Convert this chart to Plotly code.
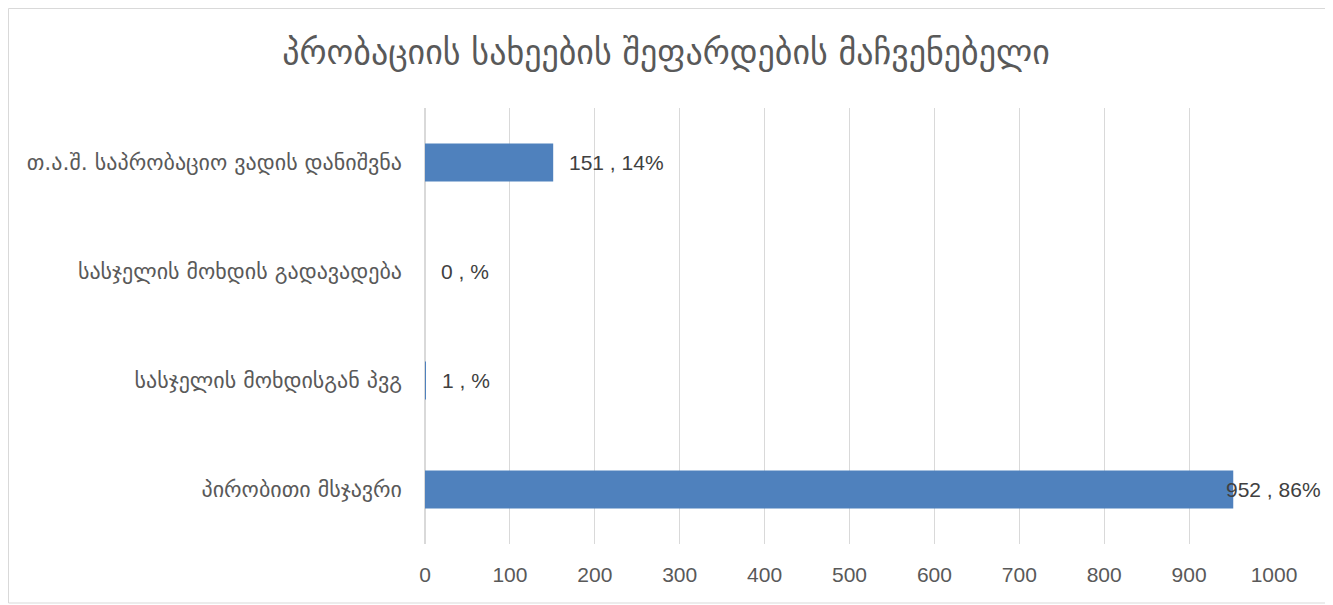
import plotly.graph_objects as go

categories = [
    "პირობითი მსჯავრი",
    "სასჯელის მოხდისგან პვგ",
    "სასჯელის მოხდის გადავადება",
    "თ.ა.შ. საპრობაციო ვადის დანიშვნა",
]
values = [952, 1, 0, 151]
percents = ["86", "", "", "14"]
x_ticks = [0, 100, 200, 300, 400, 500, 600, 700, 800, 900, 1000]
title_text = "პრობაციის სახეების შეფარდების მაჩვენებელი"

# page body has an 8px margin; figure is sized to fill the rest of the window
OFF = 8
W, H = 1333 - OFF, 605 - OFF
ml, mr, mt, mb = 425 - OFF, 59, 108 - OFF, 61
pw, ph = W - ml - mr, H - mt - mb

fig = go.Figure()
fig.add_trace(go.Bar(
    y=categories, x=values, orientation="h",
    marker=dict(color="#4f81bd", line=dict(width=0)),
    width=0.35, hoverinfo="x+y",
))

for c, v, p in zip(categories, values, percents):
    shift = -9 if v > 900 else 14
    fig.add_annotation(
        x=v, y=c, xref="x", yref="y", text=f"{v} , {p}%",
        showarrow=False, xanchor="left", xshift=shift,
        font=dict(family="Liberation Sans, sans-serif", size=21, color="#404040"),
    )

fig.add_shape(
    type="rect", xref="paper", yref="paper",
    x0=(0.5 - ml) / pw, x1=(W - 1.5 - ml) / pw,
    y0=-(mb - 2) / ph, y1=1 + (mt - 0.5) / ph,
    line=dict(color="#d9d9d9", width=1), fillcolor="rgba(0,0,0,0)", layer="below",
)

fig.update_layout(
    width=W, height=H,
    margin=dict(l=ml, r=mr, t=mt, b=mb),
    paper_bgcolor="white", plot_bgcolor="white",
    showlegend=False, bargap=0.65,
    title=dict(text=title_text, x=(666 - OFF) / W, xref="container", xanchor="center",
               y=1 - (52 - OFF) / H, yref="container", yanchor="middle",
               font=dict(family="DejaVu Sans, sans-serif", size=34, color="#595959")),
    xaxis=dict(range=[0, 1000], tickvals=x_ticks, showgrid=True, gridcolor="#d9d9d9", gridwidth=1,
               zeroline=True, zerolinecolor="#d9d9d9", showline=False,
               ticks="", tickfont=dict(family="Liberation Sans, sans-serif", size=21, color="#595959"),
               ticklabelstandoff=16),
    yaxis=dict(categoryorder="array", categoryarray=categories, showgrid=False, zeroline=False,
               showline=False, ticks="", ticklabelstandoff=22,
               tickfont=dict(family="DejaVu Sans, sans-serif", size=22, color="#595959")),
)

fig.write_html("out.html")
